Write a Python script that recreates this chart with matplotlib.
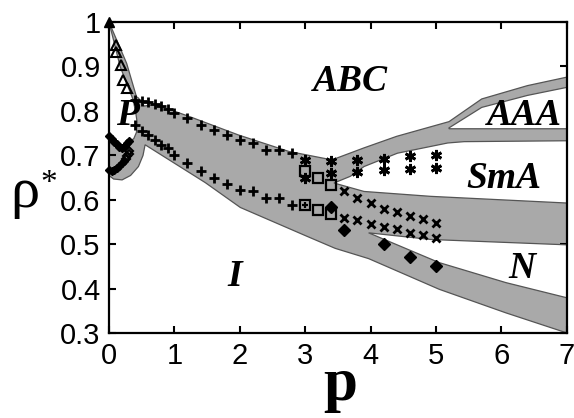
import matplotlib
matplotlib.use("Agg")
import matplotlib.pyplot as plt

# ---------------- data ----------------
# phase boundaries
abc_p = [0.0, 0.27, 0.42, 0.45, 0.54, 0.70, 1.22, 1.98, 2.75, 3.41, 3.9, 4.4, 5.2, 5.7, 6.4, 7.0]
abc_r = [1.0, 0.907, 0.832, 0.829, 0.811, 0.815, 0.788, 0.746, 0.709, 0.690, 0.717, 0.743, 0.776, 0.827, 0.857, 0.876]
iso_p = [0.552, 1.471, 2.008, 3.03, 3.46, 3.97, 5.05, 6.07, 7.0]
iso_r = [0.724, 0.639, 0.583, 0.518, 0.491, 0.468, 0.399, 0.346, 0.301]
lobe_p = [0.552, 0.52, 0.45, 0.33, 0.20, 0.07, 0.0]
lobe_r = [0.724, 0.70, 0.675, 0.655, 0.645, 0.647, 0.655]
plast_p = [0.0, 0.17, 0.37, 0.41, 0.43, 0.42, 0.38, 0.31, 0.20, 0.09, 0.0]
plast_r = [1.0, 0.90, 0.825, 0.795, 0.775, 0.752, 0.738, 0.730, 0.718, 0.730, 0.744]
sma_top_p = [3.44, 3.69, 3.9, 4.41, 5.18, 5.43, 7.0]
sma_top_r = [0.638, 0.653, 0.675, 0.705, 0.728, 0.731, 0.733]
sma_bot_p = [3.44, 3.9, 4.92, 7.0]
sma_bot_r = [0.638, 0.619, 0.608, 0.593]
aaa_top_p = [5.2, 5.7, 6.4, 7.0]
aaa_top_r = [0.762, 0.808, 0.835, 0.853]
aaa_bot_p = [5.2, 7.0]
aaa_bot_r = [0.760, 0.760]
nem_top_p = [3.97, 4.92, 7.0]
nem_top_r = [0.526, 0.511, 0.499]
nem_bot_p = [3.97, 5.05, 6.07, 7.0]
nem_bot_r = [0.526, 0.459, 0.414, 0.380]

# simulation points
tri_p = [0.10, 0.10, 0.19, 0.22, 0.27]
tri_r = [0.948, 0.933, 0.904, 0.870, 0.851]
tri_fill_p = [0.0]
tri_fill_r = [1.0]
plus_p = [0.4, 0.5, 0.6, 0.7, 0.8, 0.9, 1.0, 1.2, 1.4, 1.6, 1.8, 2.0, 2.2, 2.4, 2.6, 2.8]
plus_hi_r = [0.825, 0.823, 0.821, 0.816, 0.811, 0.804, 0.796, 0.784, 0.769, 0.758, 0.746, 0.735, 0.728, 0.713, 0.713, 0.705]
plus_lo_r = [0.769, 0.756, 0.746, 0.735, 0.724, 0.716, 0.701, 0.682, 0.664, 0.649, 0.636, 0.623, 0.621, 0.604, 0.604, 0.589]
sq_p = [3.0, 3.2, 3.4, 3.0, 3.2, 3.4]
sq_r = [0.666, 0.649, 0.633, 0.588, 0.578, 0.569]
sqplus_p = [3.0]
sqplus_r = [0.588]
ast_p = [3.0, 3.0, 3.4, 3.4, 3.8, 3.8, 4.2, 4.2, 4.6, 4.6, 5.0, 5.0]
ast_r = [0.690, 0.649, 0.687, 0.661, 0.690, 0.662, 0.692, 0.667, 0.698, 0.670, 0.702, 0.672]
cross_p = [3.6, 3.8, 4.0, 4.2, 4.4, 4.6, 4.8, 5.0]
cross_hi_r = [0.619, 0.604, 0.592, 0.580, 0.573, 0.563, 0.556, 0.548]
cross_lo_r = [0.560, 0.554, 0.546, 0.539, 0.535, 0.526, 0.520, 0.515]
dia_p = [3.4, 3.6, 4.2, 4.6, 5.0]
dia_r = [0.585, 0.532, 0.500, 0.471, 0.451]
ldia_hi_p = [0.0, 0.04, 0.08, 0.12, 0.16, 0.20, 0.24, 0.28, 0.31]
ldia_hi_r = [0.744, 0.737, 0.730, 0.725, 0.720, 0.717, 0.721, 0.727, 0.732]
ldia_lo_p = [0.0, 0.04, 0.08, 0.12, 0.16, 0.20, 0.23]
ldia_lo_r = [0.668, 0.665, 0.667, 0.671, 0.676, 0.682, 0.688]
odia_p = [0.26, 0.28, 0.30, 0.31]
odia_r = [0.693, 0.698, 0.703, 0.710]

phase_names = ["ABC", "AAA", "SmA", "N", "I", "P"]
phase_p = [3.69, 6.35, 6.04, 6.32, 1.92, 0.28]
phase_r = [0.844, 0.769, 0.627, 0.425, 0.406, 0.769]

xticks = [0, 1, 2, 3, 4, 5, 6, 7]
yticks = [0.3, 0.4, 0.5, 0.6, 0.7, 0.8, 0.9, 1.0]
ytick_labels = ["0.3", "0.4", "0.5", "0.6", "0.7", "0.8", "0.9", "1"]

# ---------------- figure ----------------
fig = plt.figure(figsize=(5.74, 4.18), dpi=100)
ax = fig.add_axes([0.1899, 0.2026, 0.7974, 0.7447])

GRAY = "#a9a9a9"
EDGE = "#555555"

# whole coexistence region
gx = abc_p + iso_p[::-1] + lobe_p[1:]
gy = abc_r + iso_r[::-1] + lobe_r[1:]
ax.fill(gx, gy, facecolor=GRAY, edgecolor=EDGE, lw=0.9, zorder=1)

# single-phase pockets carved in white
def wedge(tp, tr, bp, br):
    return tp + bp[::-1], tr + br[::-1]

for (xs, ys) in [(plast_p, plast_r),
                 wedge(sma_top_p, sma_top_r, sma_bot_p, sma_bot_r),
                 wedge(aaa_top_p, aaa_top_r, aaa_bot_p, aaa_bot_r),
                 wedge(nem_top_p, nem_top_r, nem_bot_p, nem_bot_r)]:
    ax.fill(xs, ys, facecolor="white", edgecolor=EDGE, lw=0.9, zorder=2)

mk = dict(ls="none", color="black", zorder=4, clip_on=False)
ax.plot(tri_p, tri_r, marker="^", ms=7, mew=1.5, mfc="none", **mk)
ax.plot(tri_fill_p, tri_fill_r, marker="^", ms=7, **mk)
ax.plot(plus_p, plus_hi_r, marker="+", ms=7, mew=2, **mk)
ax.plot(plus_p, plus_lo_r, marker="+", ms=7, mew=2, **mk)
ax.plot(sq_p, sq_r, marker="s", ms=6.5, mew=1.6, mfc="none", **mk)
ax.plot(sqplus_p, sqplus_r, marker="+", ms=5, mew=1.6, **mk)
ax.plot(ast_p, ast_r, marker=(6, 2, 0), ms=8, mew=2, **mk)
ax.plot(cross_p, cross_hi_r, marker="x", ms=6, mew=2, **mk)
ax.plot(cross_p, cross_lo_r, marker="x", ms=6, mew=2, **mk)
ax.plot(dia_p, dia_r, marker="D", ms=6, **mk)
ax.plot(ldia_hi_p, ldia_hi_r, marker="D", ms=4.5, **mk)
ax.plot(ldia_lo_p, ldia_lo_r, marker="D", ms=4.5, **mk)
ax.plot(odia_p, odia_r, marker="D", ms=4.5, mew=1.5, mfc="none", **mk)

for name, px, py in zip(phase_names, phase_p, phase_r):
    ax.text(px, py, name, ha="center", va="baseline", fontsize=27,
            family="Liberation Serif", fontweight="bold", fontstyle="italic", zorder=5)

ax.set_xlim(0, 7)
ax.set_ylim(0.3, 1.0)
ax.set_xticks(xticks)
ax.set_xticklabels([str(t) for t in xticks])
ax.set_yticks(yticks)
ax.set_yticklabels(ytick_labels)
ax.tick_params(direction="in", length=5, width=1.5, top=True, right=True,
               labelsize=21, pad=6)
for lab in ax.get_xticklabels() + ax.get_yticklabels():
    lab.set_family("Liberation Sans")
for s in ax.spines.values():
    s.set_linewidth(1.6)
    s.set_zorder(6)

fig.text(0.592, 0.043, "p", ha="center", va="baseline", fontsize=44,
         family="Liberation Serif", fontweight="bold")
fig.text(0.044, 0.505, "\u03c1", ha="center", va="baseline", fontsize=42,
         family="Liberation Serif")
fig.text(0.085, 0.54, "*", ha="center", va="baseline", fontsize=24,
         family="Liberation Serif")

fig.savefig("out.png", dpi=100)
